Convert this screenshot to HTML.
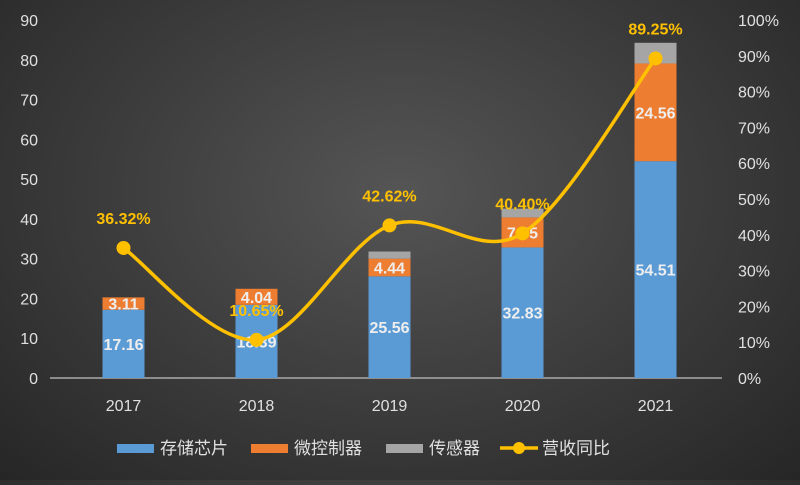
<!DOCTYPE html>
<html><head><meta charset="utf-8"><style>
html,body{margin:0;padding:0;}
body{width:800px;height:480px;overflow:hidden;background:radial-gradient(ellipse at 50% 40%,#555 0%,#3d3d3d 50%,#262626 100%);font-family:"Liberation Sans","Noto Sans CJK SC",sans-serif;}
svg text{font-family:"Liberation Sans","Noto Sans CJK SC",sans-serif;}
</style></head><body>
<svg id="chart" width="800" height="480" xmlns="http://www.w3.org/2000/svg"></svg>
<script>
const years = ["2017","2018","2019","2020","2021"];
const storage = [17.16, 18.39, 25.56, 32.83, 54.51];
const mcu = [3.11, 4.04, 4.44, 7.55, 24.56];
const sensor = [0, 0, 1.8, 2.2, 5.2];
const growth = [36.32, 10.65, 42.62, 40.40, 89.25];
const leftTicks = [0,10,20,30,40,50,60,70,80,90];
const rightTicks = [0,10,20,30,40,50,60,70,80,90,100];

const svg = document.getElementById('chart');
const NS = 'http://www.w3.org/2000/svg';
const y0 = 378, yTop = 20, x0 = 57, x1 = 722;
const yL = v => y0 - v / 90 * (y0 - yTop);
const yR = p => y0 - p / 100 * (y0 - yTop);
const step = (x1 - x0) / years.length;
const xC = i => x0 + step * (i + 0.5);
const barW = 42;
function mk(tag, attrs, text){const e=document.createElementNS(NS,tag);for(const k in attrs)e.setAttribute(k,attrs[k]);if(text!==undefined)e.textContent=text;svg.appendChild(e);return e;}

leftTicks.forEach(t=>{const e=mk('text',{x:38,y:yL(t)+6,'text-anchor':'end',fill:'#e0e0e0','font-size':16},t);

});
rightTicks.forEach(t=>{const e=mk('text',{x:738,y:yR(t)+6,'text-anchor':'start',fill:'#e0e0e0','font-size':16},t+'%');

});
const ax=mk('line',{x1:x0-7,x2:x1,y1:y0,y2:y0,stroke:'#aaa','stroke-width':1.5});



years.forEach((yr,i)=>{
  const cx=xC(i), bx=cx-barW/2;
  const segs=[[0,storage[i],'#5b9bd5'],[storage[i],storage[i]+mcu[i],'#ed7d31'],[storage[i]+mcu[i],storage[i]+mcu[i]+sensor[i],'#a5a5a5']];
  const names=['bar-storage-','bar-mcu-','bar-sensor-'];
  segs.forEach((s,k)=>{if(s[1]<=s[0])return;
    const r=mk('rect',{x:bx,y:yL(s[1]),width:barW,height:yL(s[0])-yL(s[1]),fill:s[2]});
    
    });
  const l1=mk('text',{x:cx,y:(yL(0)+yL(storage[i]))/2+6,'text-anchor':'middle',fill:'#eee','font-size':16,'font-weight':'bold'},storage[i].toFixed(2));
  
  
  const l2=mk('text',{x:cx,y:(yL(storage[i])+yL(storage[i]+mcu[i]))/2+6,'text-anchor':'middle',fill:'#eee','font-size':16,'font-weight':'bold'},mcu[i].toFixed(2));
  
  
  const xl=mk('text',{x:cx,y:411,'text-anchor':'middle',fill:'#e0e0e0','font-size':16},yr);
  
  
});

// smooth line (Catmull-Rom)
const pts=growth.map((g,i)=>[xC(i),yR(g)]);
let d='M'+pts[0][0]+','+pts[0][1];
for(let i=0;i<pts.length-1;i++){
  const p0=pts[Math.max(0,i-1)],p1=pts[i],p2=pts[i+1],p3=pts[Math.min(pts.length-1,i+2)];
  const c1=[p1[0]+(p2[0]-p0[0])/6,p1[1]+(p2[1]-p0[1])/6];
  const c2=[p2[0]-(p3[0]-p1[0])/6,p2[1]-(p3[1]-p1[1])/6];
  d+=' C'+c1+' '+c2+' '+p2;
}
const ln=mk('path',{d:d,fill:'none',stroke:'#ffc000','stroke-width':3.5});


pts.forEach((p,i)=>{
  const c=mk('circle',{cx:p[0],cy:p[1],r:7,fill:'#ffc000'});
  
  
  const t=mk('text',{x:p[0],y:p[1]-24,'text-anchor':'middle',fill:'#ffc000','font-size':16,'font-weight':'bold'},growth[i].toFixed(2)+'%');
  
  
});

// legend
const leg=[['#5b9bd5','存储芯片',117],['#ed7d31','微控制器',251],['#a5a5a5','传感器',386]];
leg.forEach(l=>{
  const r=mk('rect',{x:l[2],y:444,width:37,height:9,fill:l[0]});
  
  
  const t=mk('text',{x:l[2]+43,y:454,fill:'#e0e0e0','font-size':17},l[1]);
  
  
});
const ll=mk('line',{x1:500,x2:538,y1:448,y2:448,stroke:'#ffc000','stroke-width':3.5});


const lc=mk('circle',{cx:519,cy:448,r:6,fill:'#ffc000'});


const lt=mk('text',{x:542,y:454,fill:'#e0e0e0','font-size':17},'营收同比');


</script>
</body></html>
